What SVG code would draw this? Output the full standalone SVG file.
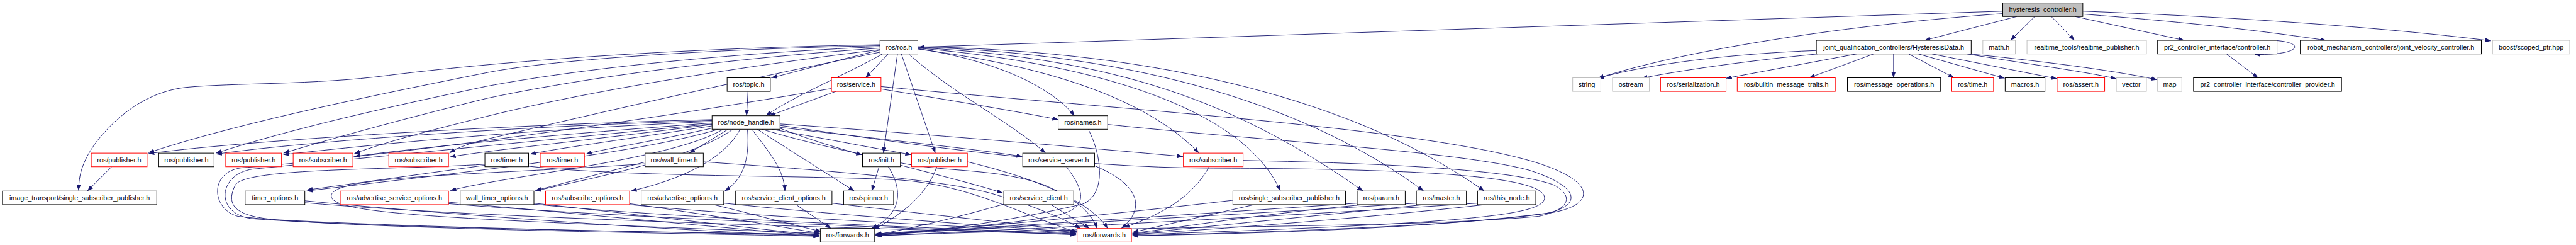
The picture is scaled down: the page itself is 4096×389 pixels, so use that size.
<svg xmlns="http://www.w3.org/2000/svg" width="4096" height="389" viewBox="0 0 4096 389">
<style>
.nd rect{fill:#fff;stroke:#000;stroke-width:1.3}
.rd rect{fill:#fff;stroke:#f00;stroke-width:1.3}
.gy rect{fill:#fff;stroke:#bfbfbf;stroke-width:1.3}
.top rect{fill:#bfbfbf;stroke:#000;stroke-width:1.3}
text{font-family:"Liberation Sans",Arial,sans-serif;font-size:14px;fill:#000;text-anchor:middle}
#edges path{fill:none;stroke:#191970;stroke-width:1.2;marker-end:url(#a)}
</style>
<defs>
<marker id="a" markerUnits="userSpaceOnUse" markerWidth="12" markerHeight="9" viewBox="0 0 12 9" refX="12" refY="4.5" orient="auto">
<path d="M0,0 L12,4.5 L0,9 z" fill="#191970"/>
</marker>
</defs>
<rect width="4096" height="389" fill="#fff"/>
<g transform="scale(0.77181)">
<g id="edges">
<path d="M4126,23 L1893,97"/>
<path d="M4126,28 C3820,50 3480,100 3292,161"/>
<path d="M4155,34 L3965,83"/>
<path d="M4192,34 L4142,83"/>
<path d="M4226,34 L4274,83"/>
<path d="M4275,34 L4500,83"/>
<path d="M4291,29 C4500,45 4650,62 4792,83"/>
<path d="M4291,23 C4600,35 4900,55 5132,84"/>
<path d="M3742,104 C3580,110 3400,130 3292,161"/>
<path d="M3745,111 C3600,125 3460,145 3382,161"/>
<path d="M3825,111 L3556,161"/>
<path d="M3860,111 L3727,160"/>
<path d="M3901,111 L3901,160"/>
<path d="M3932,111 L4026,160"/>
<path d="M3952,111 L4130,161"/>
<path d="M3980,111 L4238,162"/>
<path d="M4052,111 C4200,135 4300,148 4360,162"/>
<path d="M4058,111 C4250,130 4380,150 4444,164"/>
<path d="M4587,111 L4652,160"/>
<path d="M4660,83 C4750,80 4755,114 4645,112"/>
<path d="M1813,92 C1350,100 1000,130 800,155 C650,175 480,170 380,180 C300,190 240,240 200,290 C170,330 162,360 162,392"/>
<path d="M1813,94 C1500,100 1150,120 1000,150 C800,190 500,250 306,314"/>
<path d="M1813,96 C1500,110 1200,140 1000,178 C800,220 600,265 445,315"/>
<path d="M1813,99 C1500,120 1200,160 1000,203 C850,240 700,280 584,315"/>
<path d="M1813,102 C1500,140 1200,190 1000,240 C900,265 800,290 730,316"/>
<path d="M1815,107 C1500,170 1200,240 1000,287 C960,297 940,305 926,315"/>
<path d="M1818,111 C1750,150 1630,200 1578,238"/>
<path d="M1813,103 C1720,125 1650,145 1589,160"/>
<path d="M1830,111 L1783,160"/>
<path d="M1891,100 C2050,125 2160,175 2214,238"/>
<path d="M1849,111 L1820,315"/>
<path d="M1857,111 L1927,315"/>
<path d="M1872,111 C1960,190 2080,250 2154,315"/>
<path d="M1891,101 C2150,135 2360,200 2470,315"/>
<path d="M1891,99 C2250,130 2560,220 2638,393"/>
<path d="M1891,98 C2300,120 2550,210 2808,393"/>
<path d="M1891,97 C2350,110 2700,220 2933,393"/>
<path d="M1891,96 C2400,105 2800,210 3058,393"/>
<path d="M1541,188 L1538,238"/>
<path d="M1722,188 L1585,238"/>
<path d="M1815,183 C1950,205 2100,230 2180,246"/>
<path d="M1713,182 C1200,270 700,330 500,345 C430,352 435,430 490,445 C700,470 1300,478 1688,486"/>
<path d="M1815,178 C2300,225 2900,260 3150,330 C3290,370 3290,420 3200,437 C2950,470 2600,480 2333,485"/>
<path d="M1467,246 C1000,258 500,290 306,316"/>
<path d="M1467,248 C1000,262 600,295 445,317"/>
<path d="M1467,250 C1050,268 750,300 584,318"/>
<path d="M1467,253 C1100,280 850,305 730,322"/>
<path d="M1467,256 C1200,290 1000,310 927,323"/>
<path d="M1467,259 C1300,285 1150,305 1092,317"/>
<path d="M1470,263 C1350,290 1250,305 1207,317"/>
<path d="M1500,266 L1420,315"/>
<path d="M1480,266 C1300,320 900,360 632,393"/>
<path d="M1490,266 C1380,330 1050,360 928,392"/>
<path d="M1510,266 C1420,330 1200,370 1103,393"/>
<path d="M1525,266 C1490,330 1400,370 1300,393"/>
<path d="M1540,266 C1545,330 1530,370 1493,393"/>
<path d="M1549,266 C1590,320 1615,350 1617,393"/>
<path d="M1560,266 L1760,393"/>
<path d="M1570,266 C1650,290 1720,305 1776,318"/>
<path d="M1590,266 C1700,285 1800,305 1877,318"/>
<path d="M1607,262 C1800,285 2000,305 2106,322"/>
<path d="M1607,255 C1900,275 2250,305 2437,322"/>
<path d="M1607,264 C1750,320 1950,360 2066,397"/>
<path d="M1607,258 C1900,300 2200,345 2500,346 C2900,347 3182,360 3182,407 C3182,445 3000,460 2333,483"/>
<path d="M1467,255 C1100,290 700,330 520,348 C450,358 440,440 520,450 C800,470 1400,478 1688,482"/>
<path d="M999,340 L632,391"/>
<path d="M999,338 C800,350 510,345 485,380 C465,420 480,445 570,452 C900,470 1400,478 1688,484"/>
<path d="M1089,342 C1300,365 1650,360 1850,370 C2000,380 2100,440 2219,478"/>
<path d="M1330,333 L1103,392"/>
<path d="M1329,337 C1000,360 700,360 683,400 C670,440 900,450 1688,480"/>
<path d="M1449,333 C1700,350 1950,370 2050,400 C2150,430 2200,455 2226,470"/>
<path d="M230,343 L180,393"/>
<path d="M628,413 C900,440 1400,475 1688,486"/>
<path d="M628,417 C1000,450 1800,470 2217,482"/>
<path d="M924,416 C1200,440 1500,470 1688,485"/>
<path d="M924,419 C1300,450 1900,470 2217,483"/>
<path d="M1100,418 C1300,440 1550,470 1688,484"/>
<path d="M1100,420 C1400,450 1900,468 2217,481"/>
<path d="M1297,419 C1450,440 1600,465 1689,480"/>
<path d="M1297,421 C1600,450 2000,465 2217,480"/>
<path d="M1470,421 C1550,440 1640,465 1692,476"/>
<path d="M1491,418 C1750,445 2050,465 2218,478"/>
<path d="M1640,421 L1712,470"/>
<path d="M1714,418 C1900,440 2100,460 2219,476"/>
<path d="M1811,343 L1796,393"/>
<path d="M1830,343 C1860,390 1860,440 1795,470"/>
<path d="M1855,335 C1950,355 2050,345 2150,380 C2220,410 2250,440 2260,470"/>
<path d="M1930,343 C1910,400 1860,440 1800,472"/>
<path d="M1993,333 C2150,370 2250,420 2282,470"/>
<path d="M2197,343 C2240,400 2240,430 2170,445 C2050,465 1900,475 1804,481"/>
<path d="M2255,341 C2350,380 2360,430 2310,470"/>
<path d="M2068,420 C1980,445 1880,470 1804,483"/>
<path d="M2165,421 L2245,470"/>
<path d="M2242,266 C2270,320 2280,400 2230,420 C2100,450 1950,475 1804,484"/>
<path d="M2282,256 C2600,290 3000,310 3150,350 C3260,385 3260,425 3180,440 C3000,465 2600,478 2333,485"/>
<path d="M2491,343 C2460,400 2400,440 2315,468"/>
<path d="M2561,330 C2800,335 3100,345 3200,380 C3240,400 3240,430 3170,445 C2900,470 2400,462 1804,485"/>
<path d="M2540,412 C2300,440 2000,470 1804,482"/>
<path d="M2584,421 L2333,478"/>
<path d="M2796,418 C2400,445 2000,470 1804,483"/>
<path d="M2810,421 C2600,440 2450,465 2333,480"/>
<path d="M2918,418 C2500,445 2000,470 1804,484"/>
<path d="M2935,421 C2700,445 2450,470 2333,481"/>
<path d="M3044,418 C2600,448 2100,472 1804,485"/>
<path d="M3060,421 C2800,450 2500,472 2333,482"/>
</g>
<g id="n_hyst" class="top"><rect x="4126" y="6" width="165" height="28"/><text x="4208.5" y="25">hysteresis_controller.h</text></g>
<g id="n_ros" class="nd"><rect x="1813" y="83" width="78" height="28"/><text x="1852" y="102">ros/ros.h</text></g>
<g id="n_hd" class="nd"><rect x="3742" y="83" width="319" height="28"/><text x="3901.5" y="102">joint_qualification_controllers/HysteresisData.h</text></g>
<g id="n_math" class="gy"><rect x="4085" y="83" width="67" height="28"/><text x="4118.5" y="102">math.h</text></g>
<g id="n_rtp" class="gy"><rect x="4176" y="83" width="246" height="28"/><text x="4299" y="102">realtime_tools/realtime_publisher.h</text></g>
<g id="n_pr2c" class="nd"><rect x="4445" y="83" width="246" height="28"/><text x="4568" y="102">pr2_controller_interface/controller.h</text></g>
<g id="n_rmc" class="nd"><rect x="4739" y="83" width="373" height="28"/><text x="4925.5" y="102">robot_mechanism_controllers/joint_velocity_controller.h</text></g>
<g id="n_boost" class="gy"><rect x="5135" y="83" width="159" height="28"/><text x="5214.5" y="102">boost/scoped_ptr.hpp</text></g>
<g id="n_topic" class="nd"><rect x="1498" y="160" width="89" height="28"/><text x="1542.5" y="179">ros/topic.h</text></g>
<g id="n_service" class="rd"><rect x="1713" y="160" width="102" height="28"/><text x="1764" y="179">ros/service.h</text></g>
<g id="n_string" class="gy"><rect x="3240" y="160" width="58" height="28"/><text x="3269" y="179">string</text></g>
<g id="n_ostream" class="gy"><rect x="3322" y="160" width="76" height="28"/><text x="3360" y="179">ostream</text></g>
<g id="n_serial" class="rd"><rect x="3421" y="160" width="135" height="28"/><text x="3488.5" y="179">ros/serialization.h</text></g>
<g id="n_builtin" class="rd"><rect x="3579" y="160" width="202" height="28"/><text x="3680" y="179">ros/builtin_message_traits.h</text></g>
<g id="n_msgops" class="nd"><rect x="3806" y="160" width="192" height="28"/><text x="3902" y="179">ros/message_operations.h</text></g>
<g id="n_time" class="rd"><rect x="4021" y="160" width="86" height="28"/><text x="4064" y="179">ros/time.h</text></g>
<g id="n_macros" class="nd"><rect x="4131" y="160" width="82" height="28"/><text x="4172" y="179">macros.h</text></g>
<g id="n_assert" class="rd"><rect x="4238" y="160" width="98" height="28"/><text x="4287" y="179">ros/assert.h</text></g>
<g id="n_vector" class="gy"><rect x="4360" y="160" width="62" height="28"/><text x="4391" y="179">vector</text></g>
<g id="n_map" class="gy"><rect x="4445" y="160" width="50" height="28"/><text x="4470" y="179">map</text></g>
<g id="n_cprov" class="nd"><rect x="4519" y="160" width="305" height="28"/><text x="4671.5" y="179">pr2_controller_interface/controller_provider.h</text></g>
<g id="n_nh" class="nd"><rect x="1467" y="238" width="140" height="28"/><text x="1537" y="257">ros/node_handle.h</text></g>
<g id="n_names" class="nd"><rect x="2180" y="238" width="102" height="28"/><text x="2231" y="257">ros/names.h</text></g>
<g id="n_pub1" class="rd"><rect x="188" y="315" width="115" height="28"/><text x="245.5" y="334">ros/publisher.h</text></g>
<g id="n_pub2" class="nd"><rect x="327" y="315" width="114" height="28"/><text x="384" y="334">ros/publisher.h</text></g>
<g id="n_pub3" class="rd"><rect x="465" y="315" width="115" height="28"/><text x="522.5" y="334">ros/publisher.h</text></g>
<g id="n_sub1" class="rd"><rect x="604" y="315" width="123" height="28"/><text x="665.5" y="334">ros/subscriber.h</text></g>
<g id="n_sub2" class="rd"><rect x="801" y="315" width="123" height="28"/><text x="862.5" y="334">ros/subscriber.h</text></g>
<g id="n_timer1" class="nd"><rect x="999" y="315" width="90" height="28"/><text x="1044" y="334">ros/timer.h</text></g>
<g id="n_timer2" class="rd"><rect x="1113" y="315" width="91" height="28"/><text x="1158.5" y="334">ros/timer.h</text></g>
<g id="n_wtimer" class="nd"><rect x="1329" y="315" width="120" height="28"/><text x="1389" y="334">ros/wall_timer.h</text></g>
<g id="n_init" class="nd"><rect x="1777" y="315" width="78" height="28"/><text x="1816" y="334">ros/init.h</text></g>
<g id="n_pub4" class="rd"><rect x="1878" y="315" width="115" height="28"/><text x="1935.5" y="334">ros/publisher.h</text></g>
<g id="n_ssrv" class="nd"><rect x="2107" y="315" width="148" height="28"/><text x="2181" y="334">ros/service_server.h</text></g>
<g id="n_sub3" class="rd"><rect x="2438" y="315" width="123" height="28"/><text x="2499.5" y="334">ros/subscriber.h</text></g>
<g id="n_itssp" class="nd"><rect x="5" y="393" width="318" height="28"/><text x="164" y="412">image_transport/single_subscriber_publisher.h</text></g>
<g id="n_topt" class="nd"><rect x="505" y="393" width="123" height="28"/><text x="566.5" y="412">timer_options.h</text></g>
<g id="n_asopt" class="rd"><rect x="701" y="393" width="223" height="28"/><text x="812.5" y="412">ros/advertise_service_options.h</text></g>
<g id="n_wtopt" class="nd"><rect x="948" y="393" width="152" height="28"/><text x="1024" y="412">wall_timer_options.h</text></g>
<g id="n_subopt" class="rd"><rect x="1124" y="393" width="173" height="28"/><text x="1210.5" y="412">ros/subscribe_options.h</text></g>
<g id="n_advopt" class="nd"><rect x="1321" y="393" width="170" height="28"/><text x="1406" y="412">ros/advertise_options.h</text></g>
<g id="n_scopt" class="nd"><rect x="1515" y="393" width="199" height="28"/><text x="1614.5" y="412">ros/service_client_options.h</text></g>
<g id="n_spinner" class="nd"><rect x="1738" y="393" width="103" height="28"/><text x="1789.5" y="412">ros/spinner.h</text></g>
<g id="n_sclient" class="nd"><rect x="2068" y="393" width="144" height="28"/><text x="2140" y="412">ros/service_client.h</text></g>
<g id="n_rssp" class="nd"><rect x="2540" y="393" width="232" height="28"/><text x="2656" y="412">ros/single_subscriber_publisher.h</text></g>
<g id="n_param" class="nd"><rect x="2796" y="393" width="99" height="28"/><text x="2845.5" y="412">ros/param.h</text></g>
<g id="n_master" class="nd"><rect x="2918" y="393" width="103" height="28"/><text x="2969.5" y="412">ros/master.h</text></g>
<g id="n_thisnode" class="nd"><rect x="3044" y="393" width="120" height="28"/><text x="3104" y="412">ros/this_node.h</text></g>
<g id="n_fwdB" class="nd"><rect x="1690" y="470" width="112" height="28"/><text x="1746" y="489">ros/forwards.h</text></g>
<g id="n_fwdR" class="rd"><rect x="2219" y="470" width="112" height="28"/><text x="2275" y="489">ros/forwards.h</text></g>
</g>
</svg>
